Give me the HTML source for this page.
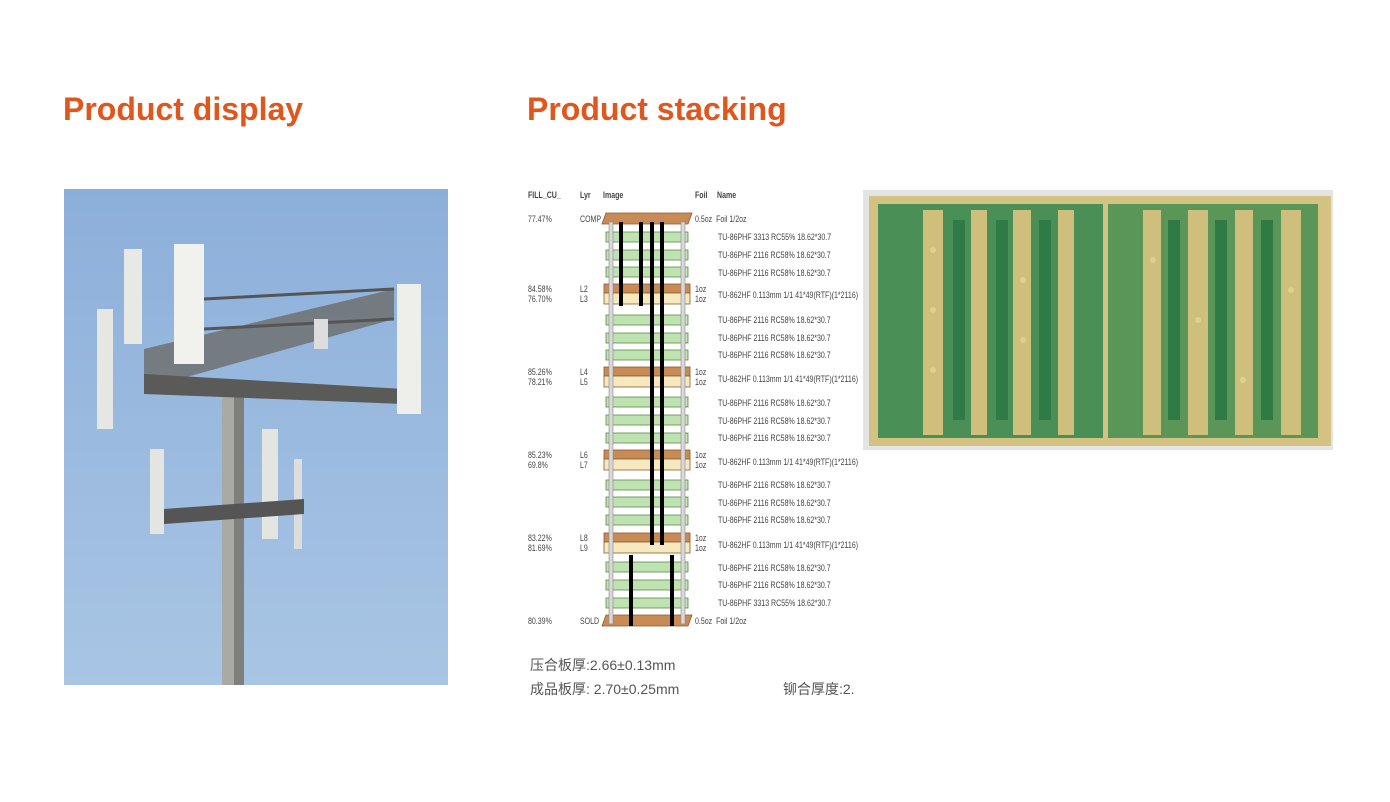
<!DOCTYPE html>
<html><head><meta charset="utf-8"><style>
body{margin:0;width:1390px;height:802px;background:#fff;position:relative;overflow:hidden;font-family:"Liberation Sans",sans-serif}
h2{position:absolute;margin:0;color:#e0561d;font-size:32px;font-weight:bold;top:91px}
.t{position:absolute;font-size:9px;color:#444;white-space:nowrap;transform:scaleX(.78);transform-origin:left center;line-height:10px}
.cn{position:absolute;font-family:"Liberation Sans","Noto Sans CJK SC",sans-serif;font-size:14px;color:#555;white-space:nowrap}
</style></head><body>
<h2 style="left:63px">Product display</h2>
<h2 style="left:527px">Product stacking</h2>

<svg style="position:absolute;left:64px;top:189px" width="384" height="496">
<defs><linearGradient id="sky" x1="0" y1="0" x2="0" y2="1"><stop offset="0" stop-color="#8cafda"/><stop offset="1" stop-color="#a9c5e4"/></linearGradient></defs>
<rect width="384" height="496" fill="url(#sky)"/>
<rect x="158" y="200" width="22" height="296" fill="#a9aaa6"/>
<rect x="170" y="200" width="10" height="296" fill="#7f807c"/>
<path d="M80 160 L330 100 L330 130 L80 200 Z" fill="#6c6d6a" opacity=".8"/>
<path d="M80 185 L340 200 L340 215 L80 205 Z" fill="#5a5a58"/>
<path d="M140 110 L330 100 M140 140 L330 130" stroke="#555" stroke-width="3"/>
<rect x="60" y="60" width="18" height="95" fill="#e8e8e4"/>
<rect x="110" y="55" width="30" height="120" fill="#f1f1ee"/>
<rect x="33" y="120" width="16" height="120" fill="#e6e6e2"/>
<rect x="333" y="95" width="24" height="130" fill="#eeeeea"/>
<rect x="250" y="130" width="14" height="30" fill="#ddd"/>
<rect x="86" y="260" width="14" height="85" fill="#e4e4e0"/>
<rect x="198" y="240" width="16" height="110" fill="#e4e4e0"/>
<rect x="230" y="270" width="8" height="90" fill="#ddd"/>
<path d="M100 320 L240 310 L240 325 L100 335Z" fill="#555"/>
</svg>

<svg style="position:absolute;left:0;top:0" width="860" height="640">
<g fill="#c98b55" stroke="#8a5a30" stroke-width=".8">
<polygon points="606,213 692,213 688,224 602,224"/>
<polygon points="606,615 692,615 688,626 602,626"/>
</g>
<g stroke="#5a8a4a" stroke-width=".8" fill="#bfe3b0">
<rect x="606" y="232" width="82" height="10"/><rect x="606" y="250" width="82" height="10"/><rect x="606" y="267" width="82" height="10"/>
<rect x="606" y="315" width="82" height="10"/><rect x="606" y="333" width="82" height="10"/><rect x="606" y="350" width="82" height="10"/>
<rect x="606" y="397" width="82" height="10"/><rect x="606" y="415" width="82" height="10"/><rect x="606" y="433" width="82" height="10"/>
<rect x="606" y="480" width="82" height="10"/><rect x="606" y="497" width="82" height="10"/><rect x="606" y="515" width="82" height="10"/>
<rect x="606" y="562" width="82" height="10"/><rect x="606" y="580" width="82" height="10"/><rect x="606" y="598" width="82" height="10"/>
</g>
<g fill="#c98b55" stroke="#8a5a30" stroke-width=".8">
<rect x="604" y="284" width="86" height="9"/><rect x="604" y="367" width="86" height="9"/><rect x="604" y="450" width="86" height="9"/><rect x="604" y="533" width="86" height="9"/>
</g>
<g fill="#f6e8bf" stroke="#8a5a30" stroke-width=".8">
<rect x="604" y="293" width="86" height="11"/><rect x="604" y="376" width="86" height="11"/><rect x="604" y="459" width="86" height="11"/><rect x="604" y="542" width="86" height="11"/>
</g>
<g fill="#d8d8d8" stroke="#888" stroke-width=".6">
<rect x="609" y="222" width="4" height="402"/><rect x="681" y="222" width="4" height="402"/>
</g>
<g stroke="#000" stroke-width="4">
<line x1="621" y1="222" x2="621" y2="306"/><line x1="641" y1="222" x2="641" y2="306"/>
<line x1="652" y1="222" x2="652" y2="545"/><line x1="662" y1="222" x2="662" y2="545"/>
<line x1="631" y1="555" x2="631" y2="626"/><line x1="672" y1="555" x2="672" y2="626"/>
</g>
</svg>

<div class="t" style="left:528px;top:190px;font-weight:bold">FILL_CU_</div>
<div class="t" style="left:580px;top:190px;font-weight:bold">Lyr</div>
<div class="t" style="left:603px;top:190px;font-weight:bold">Image</div>
<div class="t" style="left:695px;top:190px;font-weight:bold">Foil</div>
<div class="t" style="left:717px;top:190px;font-weight:bold">Name</div>

<div class="t" style="left:528px;top:214px">77.47%</div><div class="t" style="left:580px;top:214px">COMP</div><div class="t" style="left:695px;top:214px">0.5oz&nbsp; Foil 1/2oz</div>
<div class="t" style="left:718px;top:232px">TU-86PHF 3313 RC55% 18.62*30.7</div>
<div class="t" style="left:718px;top:250px">TU-86PHF 2116 RC58% 18.62*30.7</div>
<div class="t" style="left:718px;top:268px">TU-86PHF 2116 RC58% 18.62*30.7</div>
<div class="t" style="left:528px;top:284px">84.58%<br>76.70%</div><div class="t" style="left:580px;top:284px">L2<br>L3</div><div class="t" style="left:695px;top:284px">1oz<br>1oz</div><div class="t" style="left:718px;top:290px">TU-862HF 0.113mm 1/1 41*49(RTF)(1*2116)</div>
<div class="t" style="left:718px;top:315px">TU-86PHF 2116 RC58% 18.62*30.7</div>
<div class="t" style="left:718px;top:333px">TU-86PHF 2116 RC58% 18.62*30.7</div>
<div class="t" style="left:718px;top:350px">TU-86PHF 2116 RC58% 18.62*30.7</div>
<div class="t" style="left:528px;top:367px">85.26%<br>78.21%</div><div class="t" style="left:580px;top:367px">L4<br>L5</div><div class="t" style="left:695px;top:367px">1oz<br>1oz</div><div class="t" style="left:718px;top:374px">TU-862HF 0.113mm 1/1 41*49(RTF)(1*2116)</div>
<div class="t" style="left:718px;top:398px">TU-86PHF 2116 RC58% 18.62*30.7</div>
<div class="t" style="left:718px;top:416px">TU-86PHF 2116 RC58% 18.62*30.7</div>
<div class="t" style="left:718px;top:433px">TU-86PHF 2116 RC58% 18.62*30.7</div>
<div class="t" style="left:528px;top:450px">85.23%<br>69.8%</div><div class="t" style="left:580px;top:450px">L6<br>L7</div><div class="t" style="left:695px;top:450px">1oz<br>1oz</div><div class="t" style="left:718px;top:457px">TU-862HF 0.113mm 1/1 41*49(RTF)(1*2116)</div>
<div class="t" style="left:718px;top:480px">TU-86PHF 2116 RC58% 18.62*30.7</div>
<div class="t" style="left:718px;top:498px">TU-86PHF 2116 RC58% 18.62*30.7</div>
<div class="t" style="left:718px;top:515px">TU-86PHF 2116 RC58% 18.62*30.7</div>
<div class="t" style="left:528px;top:533px">83.22%<br>81.69%</div><div class="t" style="left:580px;top:533px">L8<br>L9</div><div class="t" style="left:695px;top:533px">1oz<br>1oz</div><div class="t" style="left:718px;top:540px">TU-862HF 0.113mm 1/1 41*49(RTF)(1*2116)</div>
<div class="t" style="left:718px;top:563px">TU-86PHF 2116 RC58% 18.62*30.7</div>
<div class="t" style="left:718px;top:580px">TU-86PHF 2116 RC58% 18.62*30.7</div>
<div class="t" style="left:718px;top:598px">TU-86PHF 3313 RC55% 18.62*30.7</div>
<div class="t" style="left:528px;top:616px">80.39%</div><div class="t" style="left:580px;top:616px">SOLD</div><div class="t" style="left:695px;top:616px">0.5oz&nbsp; Foil 1/2oz</div>

<div class="cn" style="left:530px;top:655px">压合板厚:2.66±0.13mm</div>
<div class="cn" style="left:530px;top:679px">成品板厚: 2.70±0.25mm</div>
<div class="cn" style="left:783px;top:679px">铆合厚度:2.</div>

<svg style="position:absolute;left:863px;top:190px" width="470" height="260">
<rect width="470" height="260" fill="#e4e4e2"/>
<rect x="6" y="6" width="462" height="250" fill="#d4c283"/>
<rect x="15" y="14" width="225" height="234" fill="#4a8f55"/>
<rect x="245" y="14" width="210" height="234" fill="#5a9658"/>
<g fill="#cfbf7c">
<rect x="60" y="20" width="20" height="225"/><rect x="108" y="20" width="16" height="225"/><rect x="150" y="20" width="18" height="225"/><rect x="195" y="20" width="16" height="225"/>
<rect x="280" y="20" width="18" height="225"/><rect x="325" y="20" width="20" height="225"/><rect x="372" y="20" width="18" height="225"/><rect x="418" y="20" width="20" height="225"/>
</g>
<g fill="#2f7a45">
<rect x="90" y="30" width="12" height="200"/><rect x="133" y="30" width="12" height="200"/><rect x="176" y="30" width="12" height="200"/>
<rect x="305" y="30" width="12" height="200"/><rect x="352" y="30" width="12" height="200"/><rect x="398" y="30" width="12" height="200"/>
</g>
<g fill="#e8dca0" opacity=".6">
<circle cx="70" cy="60" r="3"/><circle cx="70" cy="120" r="3"/><circle cx="70" cy="180" r="3"/><circle cx="160" cy="90" r="3"/><circle cx="160" cy="150" r="3"/><circle cx="290" cy="70" r="3"/><circle cx="335" cy="130" r="3"/><circle cx="380" cy="190" r="3"/><circle cx="428" cy="100" r="3"/>
</g>
</svg>
</body></html>
